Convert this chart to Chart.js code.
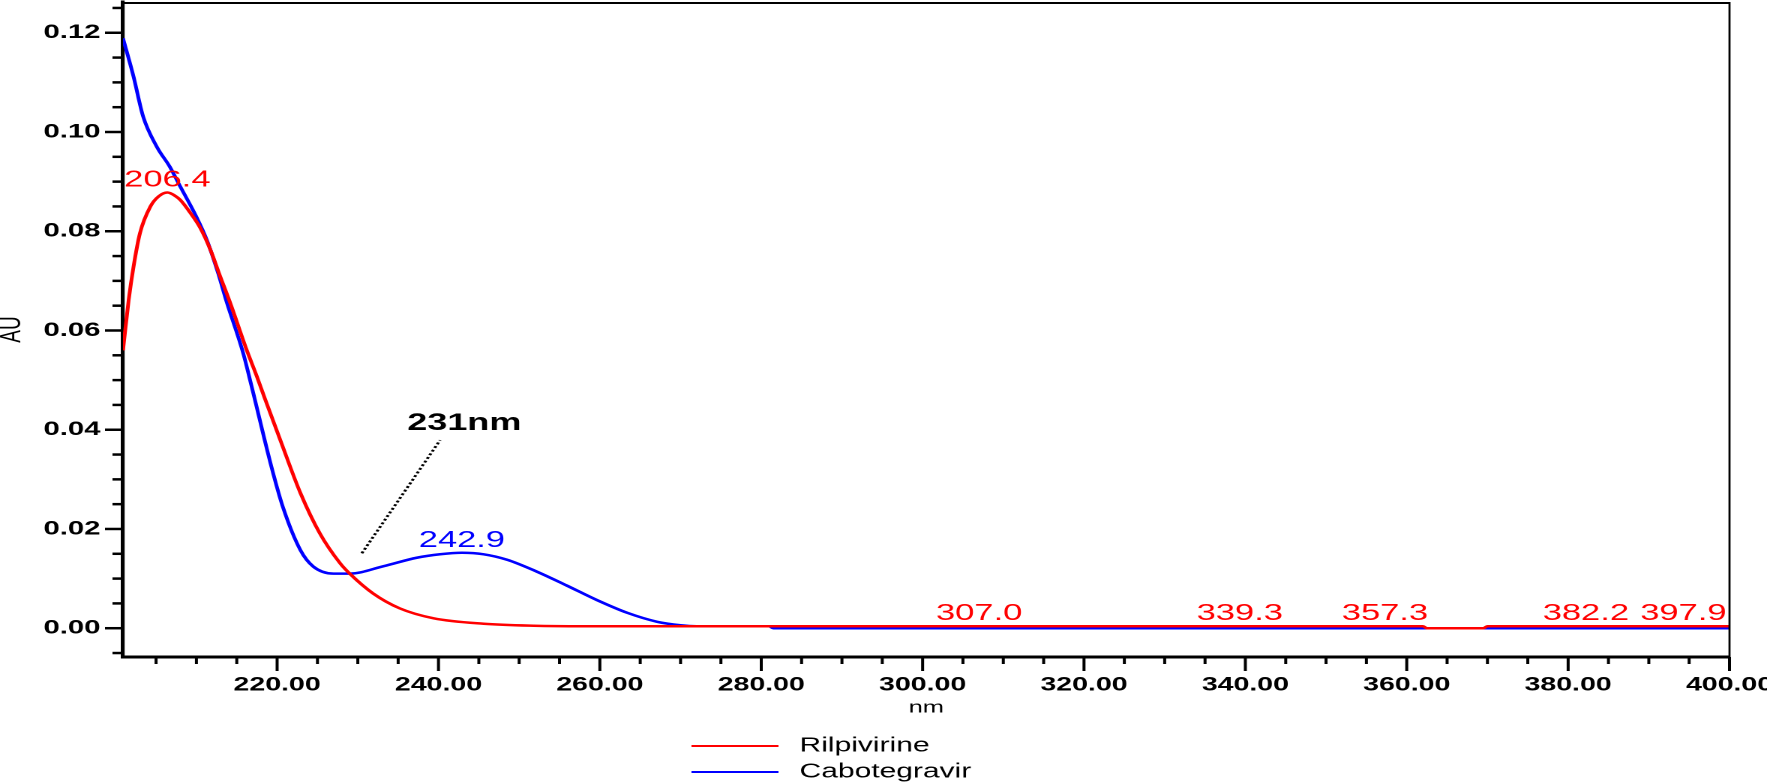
<!DOCTYPE html>
<html>
<head>
<meta charset="utf-8">
<script src="https://cdn.jsdelivr.net/npm/chart.js@4.4.1/dist/chart.umd.min.js"></script>
<style>
  html, body { margin: 0; padding: 0; background: #fff; overflow: hidden; }
  /* the source picture is stretched sideways, so the chart is drawn narrow and widened */
  #wrap { position: relative; width: 1178px; height: 782px; transform: scaleX(1.5); transform-origin: 0 0; }
</style>
</head>
<body>
<div id="wrap"><canvas id="spectrum"></canvas></div>
<script>
// Rilpivirine spectrum
var rilWavelength = [200.9, 201.6, 202.2, 203.0, 204.3, 205.3, 206.4, 207.3, 208.0, 209.2, 210.5, 211.7,
    212.9, 214.2, 216.2, 217.5, 218.5, 220.4, 222.9, 225.3, 227.8, 229.0, 231.9, 235.2, 239.4, 245.6,
    251.8, 258.0, 300.0, 307.0, 339.3, 357.3, 362.0, 362.5, 369.5, 370.0, 382.2, 397.9, 400.0];
var rilAbsorbance = [0.0560, 0.0661, 0.0728, 0.0796, 0.0850, 0.0870, 0.0878, 0.0872, 0.0863, 0.0838, 0.0806, 0.0764,
    0.0711, 0.0655, 0.0562, 0.0507, 0.0462, 0.0379, 0.0272, 0.0191, 0.0131, 0.0110, 0.0070, 0.0040, 0.0020, 0.0009,
    0.0005, 0.0004, 0.0004, 0.0004, 0.0004, 0.0004, 0.0004, 0.0000, 0.0000, 0.0004, 0.0004, 0.0004, 0.0004];

// Cabotegravir spectrum
var cabWavelength = [200.9, 202.2, 203.4, 205.1, 206.7, 208.0, 210.0, 211.3, 212.7, 213.7, 215.8, 216.8,
    219.3, 220.7, 222.9, 224.5, 227.0, 229.0, 233.2, 237.3, 240.2, 242.9, 245.6, 248.5, 252.2, 255.9,
    259.6, 263.4, 267.1, 270.0, 272.0, 281.0, 281.5, 400.0];
var cabAbsorbance = [0.1189, 0.1112, 0.1031, 0.0970, 0.0930, 0.0890, 0.0829, 0.0782, 0.0715, 0.0660, 0.0554, 0.0490,
    0.0325, 0.0245, 0.0157, 0.0124, 0.0110, 0.0110, 0.0125, 0.0142, 0.0149, 0.0152, 0.0149, 0.0138, 0.0114, 0.0086,
    0.0057, 0.0031, 0.0013, 0.0006, 0.0004, 0.0004, 0.0000, 0.0000];

// peak labels
var rilPeakNm = [206.4, 307.0, 339.3, 357.3, 382.2, 397.9];
var rilPeakAu = [0.0878, 0.0004, 0.0004, 0.0004, 0.0004, 0.0004];
var cabPeakNm = [242.9];
var cabPeakAu = [0.0152];

// isosbestic point note
var noteText = '231nm';
var notePointerNm = [230.5, 240.2];
var notePointerAu = [0.0151, 0.0379];
var noteLabelNm = 243.2;
var noteLabelAu = 0.0399;

var RED = '#ff0000';
var BLUE = '#0000ff';
var FONT = '"Liberation Sans", Arial, sans-serif';

Chart.defaults.font.family = FONT;
Chart.defaults.color = '#000';

function points(xs, ys) {
    return xs.map(function (x, i) { return { x: x, y: ys[i] }; });
}

var frameAndTicks = {
    id: 'frameAndTicks',
    afterDraw: function (chart) {
        var ctx = chart.ctx, a = chart.chartArea;
        var xs = chart.scales.x, ys = chart.scales.y;
        ctx.save();
        ctx.strokeStyle = '#000';
        ctx.lineWidth = 2;
        ctx.beginPath();
        ctx.moveTo(a.left, a.top + 1);
        ctx.lineTo(a.right, a.top + 1);
        ctx.stroke();
        ctx.lineWidth = 1.4;
        ctx.beginPath();
        ctx.moveTo(a.right, a.top);
        ctx.lineTo(a.right, a.bottom);
        ctx.stroke();

        // x ticks every 5 nm, long ones every 20
        ctx.lineWidth = 2;
        for (var v = Math.ceil(xs.min / 5) * 5; v <= xs.max; v += 5) {
            var px = xs.getPixelForValue(v);
            var len = v % 20 === 0 ? 14 : 7;
            ctx.beginPath();
            ctx.moveTo(px, a.bottom);
            ctx.lineTo(px, a.bottom + len);
            ctx.stroke();
        }
        // y ticks every 0.005, long ones every 0.02
        ctx.lineWidth = 2.5;
        for (var i = Math.ceil(ys.min / 0.005); i * 0.005 <= ys.max; i++) {
            var py = ys.getPixelForValue(i * 0.005);
            var l = i % 4 === 0 ? 12 : 7;
            ctx.beginPath();
            ctx.moveTo(a.left - l, py);
            ctx.lineTo(a.left, py);
            ctx.stroke();
        }
        ctx.restore();
    }
};

var peakLabels = {
    id: 'peakLabels',
    afterDatasetsDraw: function (chart) {
        var ctx = chart.ctx, a = chart.chartArea;
        var xs = chart.scales.x, ys = chart.scales.y;
        ctx.save();
        ctx.textBaseline = 'alphabetic';
        ctx.textAlign = 'center';

        function draw(nms, aus, color) {
            ctx.fillStyle = color;
            ctx.font = '23px ' + FONT;
            nms.forEach(function (nm, i) {
                var t = nm.toFixed(1);
                var w = ctx.measureText(t).width;
                var px = xs.getPixelForValue(nm);
                if (px + w / 2 > a.right - 2) px = a.right - 2 - w / 2;
                if (px - w / 2 < a.left) px = a.left + w / 2;
                ctx.fillText(t, px, ys.getPixelForValue(aus[i]) - 6);
            });
        }
        draw(rilPeakNm, rilPeakAu, RED);
        draw(cabPeakNm, cabPeakAu, BLUE);

        ctx.fillStyle = '#000';
        ctx.font = 'bold 24px ' + FONT;
        ctx.fillText(noteText, xs.getPixelForValue(noteLabelNm), ys.getPixelForValue(noteLabelAu));
        ctx.restore();
    }
};

var stackedLegend = {
    id: 'stackedLegend',
    afterDraw: function (chart) {
        var ctx = chart.ctx;
        var items = chart.data.datasets.filter(function (d) { return !d.hideInLegend; });
        ctx.save();
        ctx.font = '20px ' + FONT;
        ctx.textBaseline = 'middle';
        ctx.textAlign = 'left';
        items.forEach(function (d, i) {
            var y = 746 + i * 26;
            ctx.strokeStyle = d.borderColor;
            ctx.lineWidth = 2;
            ctx.beginPath();
            ctx.moveTo(461, y);
            ctx.lineTo(519, y);
            ctx.stroke();
            ctx.fillStyle = '#000';
            ctx.fillText(d.label, 533, y);
        });
        ctx.restore();
    }
};

var el = document.getElementById('spectrum').getContext('2d');
var spectrumChart = new Chart(el, {
    type: 'line',
    data: {
        datasets: [{
                label: 'Rilpivirine',
                data: points(rilWavelength, rilAbsorbance),
                borderColor: RED,
                borderWidth: 2.5,
                pointRadius: 0,
                cubicInterpolationMode: 'monotone',
                fill: false
            },
            {
                label: 'Cabotegravir',
                data: points(cabWavelength, cabAbsorbance),
                borderColor: BLUE,
                borderWidth: 2.5,
                pointRadius: 0,
                cubicInterpolationMode: 'monotone',
                fill: false
            },
            {
                label: noteText,
                data: points(notePointerNm, notePointerAu),
                borderColor: '#000',
                borderWidth: 2,
                borderDash: [2, 2],
                pointRadius: 0,
                fill: false,
                hideInLegend: true
            }
        ]
    },
    options: {
        responsive: true,
        maintainAspectRatio: false,
        animation: false,
        devicePixelRatio: 2,
        layout: { padding: { top: 2, right: 25, bottom: 64, left: 0 } },
        plugins: {
            legend: { display: false },
            tooltip: { enabled: false }
        },
        scales: {
            x: {
                type: 'linear',
                min: 200.9,
                max: 400,
                grid: { display: false, drawTicks: false },
                border: { display: true, color: '#000', width: 3 },
                ticks: {
                    stepSize: 20,
                    includeBounds: false,
                    autoSkip: false,
                    maxRotation: 0,
                    padding: 17,
                    color: '#000',
                    font: { size: 19, weight: 'bold' },
                    callback: function (v) { return v.toFixed(2); }
                },
                title: { display: true, text: 'nm', color: '#000', font: { size: 17 }, padding: 0 },
                afterFit: function (s) {
                    s.height = 61;
                    s.paddingLeft = 0;
                    s.paddingRight = 0;
                }
            },
            y: {
                type: 'linear',
                min: -0.0058,
                max: 0.1262,
                grid: { display: false, drawTicks: false },
                border: { display: true, color: '#000', width: 2.6 },
                ticks: {
                    stepSize: 0.02,
                    includeBounds: false,
                    padding: 15,
                    color: '#000',
                    font: { size: 19.5, weight: 'bold' },
                    callback: function (v) { return v.toFixed(2); }
                },
                title: { display: true, text: 'AU', color: '#000', font: { size: 19 }, padding: { top: -3, bottom: 0 } },
                afterFit: function (s) {
                    s.width = 82;
                    s.paddingTop = 0;
                    s.paddingBottom = 0;
                }
            }
        }
    },
    plugins: [frameAndTicks, peakLabels, stackedLegend]
});
</script>
</body>
</html>
